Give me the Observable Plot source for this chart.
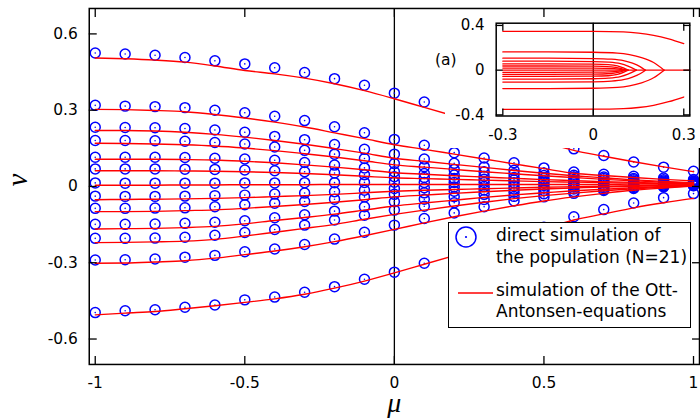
<!DOCTYPE html>
<html><head><meta charset="utf-8">
<script src="https://cdn.jsdelivr.net/npm/d3@7"></script>
<script src="https://cdn.jsdelivr.net/npm/@observablehq/plot@0.6"></script>
<style>
html,body{margin:0;padding:0;background:#fff;overflow:hidden;}
#wrap{position:relative;width:700px;height:420px;overflow:hidden;background:#fff;}
#main{position:absolute;left:0;top:0;}
#inset{position:absolute;left:445px;top:17px;width:255px;height:131px;background:#fff;overflow:hidden;}
#tag{position:absolute;left:435px;top:50px;font:15.5px "DejaVu Sans";line-height:20px;color:#000;}
#legend{position:absolute;left:448px;top:222px;width:241px;height:104px;background:#fff;border:1.3px solid #000;}
#legend svg{position:absolute;left:0;top:0;}
</style>
</head><body>
<div id="wrap">
  <div id="main"></div>
  <div id="inset"></div>
  <div id="tag">(a)</div>
  <div id="legend">
    <svg width="241" height="104" xmlns="http://www.w3.org/2000/svg">
      <circle cx="17" cy="14" r="10" fill="none" stroke="#0000ff" stroke-width="1.5"/>
      <circle cx="17" cy="14" r="1.1" fill="#0000ff"/>
      <line x1="9" y1="70" x2="44" y2="70" stroke="#ff0000" stroke-width="1.4"/>
      <g font-family="DejaVu Sans" font-size="17" fill="#000">
        <text x="47" y="18">direct simulation of</text>
        <text x="47" y="40">the population (N=21)</text>
        <text x="47" y="73">simulation of the Ott-</text>
        <text x="47" y="94">Antonsen-equations</text>
      </g>
    </svg>
  </div>
</div>
<script>
// ---- main panel data ----
const mu = [-1,-0.9,-0.8,-0.7,-0.6,-0.5,-0.4,-0.3,-0.2,-0.1,0,0.1,0.2,0.3,0.4,0.5,0.6,0.7,0.8,0.9,1];

// Ott-Antonsen trajectories (red lines)
const lineT1  = [0.505,0.502,0.497,0.489,0.474,0.456,0.443,0.426,0.404,0.377,0.345,0.311,0.277,0.243,0.209,0.175,0.142,0.119,0.097,0.077,0.058];
const lineT2  = [0.303,0.302,0.299,0.294,0.283,0.269,0.253,0.234,0.211,0.188,0.164,0.146,0.127,0.108,0.089,0.070,0.052,0.043,0.035,0.028,0.022];
const lineT3  = [0.220,0.220,0.218,0.213,0.205,0.194,0.181,0.166,0.149,0.131,0.111,0.099,0.087,0.075,0.063,0.052,0.042,0.034,0.026,0.020,0.015];
const lineT4  = [0.170,0.169,0.167,0.164,0.159,0.151,0.141,0.129,0.116,0.101,0.085,0.076,0.067,0.058,0.050,0.042,0.035,0.028,0.022,0.017,0.013];
const lineT5  = [0.107,0.107,0.107,0.106,0.104,0.099,0.093,0.085,0.076,0.066,0.054,0.048,0.042,0.037,0.032,0.027,0.023,0.019,0.016,0.013,0.011];
const lineT6  = [0.062,0.062,0.062,0.061,0.060,0.058,0.055,0.051,0.046,0.040,0.034,0.031,0.028,0.025,0.022,0.019,0.017,0.015,0.013,0.011,0.010];
const lineT7  = [0.005,0.005,0.005,0.006,0.006,0.007,0.007,0.007,0.008,0.008,0.008,0.008,0.008,0.008,0.008,0.008,0.008,0.008,0.009,0.009,0.009];
const lineT8  = [-0.052,-0.051,-0.050,-0.049,-0.047,-0.044,-0.040,-0.036,-0.031,-0.025,-0.019,-0.015,-0.012,-0.009,-0.006,-0.003,-0.001,0.001,0.003,0.005,0.007];
const lineT9  = [-0.099,-0.099,-0.098,-0.095,-0.092,-0.086,-0.079,-0.071,-0.062,-0.052,-0.041,-0.034,-0.027,-0.021,-0.015,-0.010,-0.006,-0.002,0.001,0.004,0.006];
const lineT10 = [-0.167,-0.166,-0.165,-0.162,-0.157,-0.147,-0.134,-0.122,-0.109,-0.093,-0.077,-0.065,-0.054,-0.043,-0.033,-0.025,-0.017,-0.011,-0.005,0.000,0.004];
const lineT11 = [-0.221,-0.220,-0.218,-0.215,-0.208,-0.195,-0.180,-0.165,-0.149,-0.129,-0.110,-0.093,-0.077,-0.062,-0.048,-0.036,-0.026,-0.017,-0.009,-0.003,0.003];
const lineT12 = [-0.302,-0.301,-0.297,-0.292,-0.282,-0.268,-0.254,-0.237,-0.217,-0.194,-0.169,-0.143,-0.119,-0.097,-0.076,-0.057,-0.041,-0.027,-0.015,-0.006,0.002];
const lineT13 = [-0.505,-0.498,-0.492,-0.481,-0.469,-0.456,-0.442,-0.424,-0.400,-0.372,-0.340,-0.306,-0.272,-0.238,-0.203,-0.168,-0.132,-0.108,-0.084,-0.064,-0.047];

// direct simulation of the population (blue circles)
const dotT1  = [0.525,0.521,0.516,0.507,0.494,0.482,0.467,0.448,0.424,0.398,0.367,0.332,0.298,0.262,0.226,0.190,0.148,0.122,0.096,0.076,0.060];
const dotT2  = [0.319,0.316,0.314,0.310,0.300,0.290,0.276,0.259,0.235,0.211,0.185,0.162,0.133,0.112,0.093,0.073,0.057,0.048,0.040,0.033,0.027];
const dotT3  = [0.233,0.232,0.231,0.228,0.222,0.213,0.197,0.184,0.165,0.146,0.127,0.108,0.091,0.077,0.064,0.053,0.044,0.037,0.031,0.026,0.022];
const dotT4  = [0.181,0.181,0.180,0.178,0.173,0.167,0.155,0.142,0.127,0.110,0.090,0.078,0.067,0.058,0.050,0.043,0.037,0.031,0.026,0.022,0.019];
const dotT5  = [0.115,0.115,0.115,0.114,0.111,0.108,0.103,0.094,0.084,0.073,0.058,0.051,0.045,0.040,0.035,0.031,0.027,0.024,0.021,0.018,0.016];
const dotT6  = [0.069,0.069,0.069,0.068,0.067,0.065,0.062,0.058,0.053,0.046,0.038,0.035,0.031,0.028,0.025,0.022,0.020,0.018,0.016,0.015,0.014];
const dotT7  = [0.014,0.013,0.013,0.013,0.013,0.014,0.014,0.015,0.015,0.016,0.017,0.016,0.016,0.016,0.015,0.015,0.015,0.014,0.014,0.013,0.013];
const dotT8  = [-0.038,-0.039,-0.039,-0.038,-0.036,-0.034,-0.030,-0.026,-0.021,-0.015,-0.008,-0.005,-0.002,0.000,0.002,0.004,0.006,0.007,0.009,0.010,0.011];
const dotT9  = [-0.086,-0.086,-0.085,-0.084,-0.080,-0.072,-0.066,-0.059,-0.050,-0.041,-0.031,-0.025,-0.019,-0.014,-0.010,-0.006,-0.002,0.001,0.004,0.006,0.008];
const dotT10 = [-0.149,-0.149,-0.148,-0.145,-0.141,-0.135,-0.123,-0.111,-0.097,-0.080,-0.060,-0.050,-0.040,-0.031,-0.023,-0.016,-0.010,-0.005,0.000,0.003,0.006];
const dotT11 = [-0.204,-0.204,-0.203,-0.200,-0.192,-0.181,-0.169,-0.152,-0.132,-0.113,-0.093,-0.078,-0.064,-0.051,-0.039,-0.029,-0.020,-0.012,-0.005,0.000,0.004];
const dotT12 = [-0.289,-0.288,-0.285,-0.278,-0.271,-0.257,-0.246,-0.228,-0.207,-0.180,-0.152,-0.126,-0.104,-0.080,-0.057,-0.041,-0.027,-0.016,-0.008,-0.002,0.003];
const dotT13 = [-0.496,-0.489,-0.485,-0.475,-0.466,-0.446,-0.435,-0.416,-0.394,-0.365,-0.337,-0.302,-0.268,-0.233,-0.198,-0.160,-0.119,-0.091,-0.065,-0.044,-0.028];

const xTicks = [-1,-0.5,0,0.5,1];
const xTickLabels = ["-1","-0.5","0","0.5","1"];
const yTicks = [-0.6,-0.3,0,0.3,0.6];
const yTickLabels = ["-0.6","-0.3","0","0.3","0.6"];
const zeroLine = [0];
const xLabel = ["\u03bc"];
const yLabel = ["\u03bd"];

// ---- inset (a) data: [mu, nu] pairs ----
const inA  = [[-0.3,0.347],[-0.15,0.347],[0,0.346],[0.1,0.342],[0.15,0.332],[0.2,0.312],[0.25,0.280],[0.3,0.237]];
const inB  = [[-0.3,0.163],[-0.15,0.163],[0,0.160],[0.08,0.152],[0.12,0.138],[0.16,0.112],[0.2,0.068],[0.235,0]];
const inC  = [[-0.3,0.107],[-0.15,0.107],[0,0.104],[0.06,0.098],[0.1,0.085],[0.13,0.062],[0.155,0.032],[0.173,0]];
const inD  = [[-0.3,0.080],[-0.15,0.080],[0,0.077],[0.05,0.072],[0.09,0.058],[0.115,0.036],[0.143,0]];
const inE  = [[-0.3,0.056],[-0.15,0.056],[0,0.054],[0.05,0.050],[0.08,0.038],[0.1,0.020],[0.116,0]];
const inF  = [[-0.3,0.037],[-0.15,0.037],[0,0.036],[0.06,0.030],[0.09,0.016],[0.11,0]];
const inG  = [[-0.3,0.019],[-0.15,0.019],[0,0.018],[0.07,0.013],[0.105,0]];
const inH  = [[-0.3,0],[0.32,0]];
const inGn = [[-0.3,-0.019],[-0.15,-0.019],[0,-0.018],[0.07,-0.013],[0.105,0]];
const inFn = [[-0.3,-0.037],[-0.15,-0.037],[0,-0.036],[0.06,-0.030],[0.09,-0.016],[0.11,0]];
const inEn = [[-0.3,-0.056],[-0.15,-0.056],[0,-0.054],[0.05,-0.050],[0.08,-0.038],[0.1,-0.020],[0.116,0]];
const inDn = [[-0.3,-0.080],[-0.15,-0.080],[0,-0.077],[0.05,-0.072],[0.09,-0.058],[0.115,-0.036],[0.143,0]];
const inCn = [[-0.3,-0.107],[-0.15,-0.107],[0,-0.104],[0.06,-0.098],[0.1,-0.085],[0.13,-0.062],[0.155,-0.032],[0.173,0]];
const inBn = [[-0.3,-0.165],[-0.15,-0.165],[0,-0.162],[0.08,-0.154],[0.12,-0.140],[0.16,-0.113],[0.2,-0.068],[0.235,0]];
const inAn = [[-0.3,-0.350],[-0.15,-0.350],[0,-0.349],[0.1,-0.344],[0.15,-0.334],[0.2,-0.314],[0.25,-0.282],[0.3,-0.240]];
const insetXTicks = [-0.3,0,0.3];
const insetXLabels = ["-0.3","0","0.3"];
const insetYTicks = [-0.4,0,0.4];
const insetYLabels = ["-0.4","0","0.4"];

const BLUE = "#0000ff", RED = "#ff0000";

const lineSets = [lineT1,lineT2,lineT3,lineT4,lineT5,lineT6,lineT7,lineT8,lineT9,lineT10,lineT11,lineT12,lineT13];
const dotSets = [dotT1,dotT2,dotT3,dotT4,dotT5,dotT6,dotT7,dotT8,dotT9,dotT10,dotT11,dotT12,dotT13];
const lineData = lineSets.flatMap((arr,k) => arr.map((v,i) => ({mu: mu[i], nu: v, traj: k})));
const dotData = dotSets.flatMap((arr,k) => arr.map((v,i) => ({mu: mu[i], nu: v, traj: k})));

const fmtX = d => xTickLabels[xTicks.indexOf(d)];
const fmtY = d => yTickLabels[yTicks.indexOf(d)];

const main = Plot.plot({
  width: 702, height: 420,
  marginLeft: 89, marginRight: 1, marginTop: 8, marginBottom: 55,
  x: {domain: [-1.02, 1.02]},
  y: {domain: [-0.7, 0.7]},
  style: {fontFamily: "DejaVu Sans", fontSize: "15.5px", color: "#000", background: "#fff", overflow: "visible"},
  marks: [
    Plot.ruleX(zeroLine, {stroke: "#000", strokeWidth: 1.3}),
    Plot.dot(dotData, {x: "mu", y: "nu", r: 5, stroke: BLUE, strokeWidth: 1.5, fill: "none"}),
    Plot.dot(dotData, {x: "mu", y: "nu", r: 0.8, fill: BLUE, stroke: "none"}),
    Plot.line(lineData, {x: "mu", y: "nu", z: "traj", stroke: RED, strokeWidth: 1.4, curve: "monotone-x"}),
    Plot.frame({stroke: "#000", strokeWidth: 1.5}),
    Plot.axisX(xTicks, {anchor: "bottom", tickSize: -8, tickPadding: 20.8, tickFormat: fmtX, label: null, strokeWidth: 1.3}),
    Plot.axisX(xTicks, {anchor: "top", tickSize: -8, tickFormat: () => "", label: null, strokeWidth: 1.3}),
    Plot.axisY(yTicks, {anchor: "left", tickSize: -8, tickPadding: 19.5, tickFormat: fmtY, label: null, strokeWidth: 1.3}),
    Plot.axisY(yTicks, {anchor: "right", tickSize: -8, tickFormat: () => "", label: null, strokeWidth: 1.3}),
    Plot.text(xLabel, {text: d => d, frameAnchor: "bottom", dy: 48, fontSize: 28, fontStyle: "italic", fontFamily: "Liberation Serif", fill: "#000"}),
    Plot.text(yLabel, {text: d => d, frameAnchor: "left", dx: -72, rotate: -90, fontSize: 29, fontStyle: "italic", fontFamily: "Liberation Serif", fill: "#000"})
  ]
});
document.getElementById("main").appendChild(main);

const insetSets = [inA,inB,inC,inD,inE,inF,inG,inH,inGn,inFn,inEn,inDn,inCn,inBn,inAn];
const insetData = insetSets.flatMap((arr,k) => arr.map(([m,n]) => ({mu: m, nu: n, id: k})));
const fmtIX = d => insetXLabels[insetXTicks.indexOf(d)];
const fmtIY = d => insetYLabels[insetYTicks.indexOf(d)];

const inset = Plot.plot({
  width: 255, height: 131,
  marginLeft: 50.7, marginRight: 10.7, marginTop: 5.7, marginBottom: 32.5,
  x: {domain: [-0.322, 0.32]},
  y: {domain: [-0.41, 0.42]},
  style: {fontFamily: "DejaVu Sans", fontSize: "15px", color: "#000", background: "#fff"},
  marks: [
    Plot.ruleX(zeroLine, {stroke: "#000", strokeWidth: 1.3}),
    Plot.line(insetData, {x: "mu", y: "nu", z: "id", stroke: RED, strokeWidth: 1.3, curve: "monotone-x"}),
    Plot.frame({stroke: "#000", strokeWidth: 1.5}),
    Plot.axisX(insetXTicks, {anchor: "bottom", tickSize: -7, tickPadding: 20.3, tickFormat: fmtIX, label: null, strokeWidth: 1.3}),
    Plot.axisX(insetXTicks, {anchor: "top", tickSize: -7, tickFormat: () => "", label: null, strokeWidth: 1.3}),
    Plot.axisY(insetYTicks, {anchor: "left", tickSize: -7, tickPadding: 18.7, tickFormat: fmtIY, label: null, strokeWidth: 1.3}),
    Plot.axisY(insetYTicks, {anchor: "right", tickSize: -7, tickFormat: () => "", label: null, strokeWidth: 1.3})
  ]
});
document.getElementById("inset").appendChild(inset);
</script>
</body></html>
